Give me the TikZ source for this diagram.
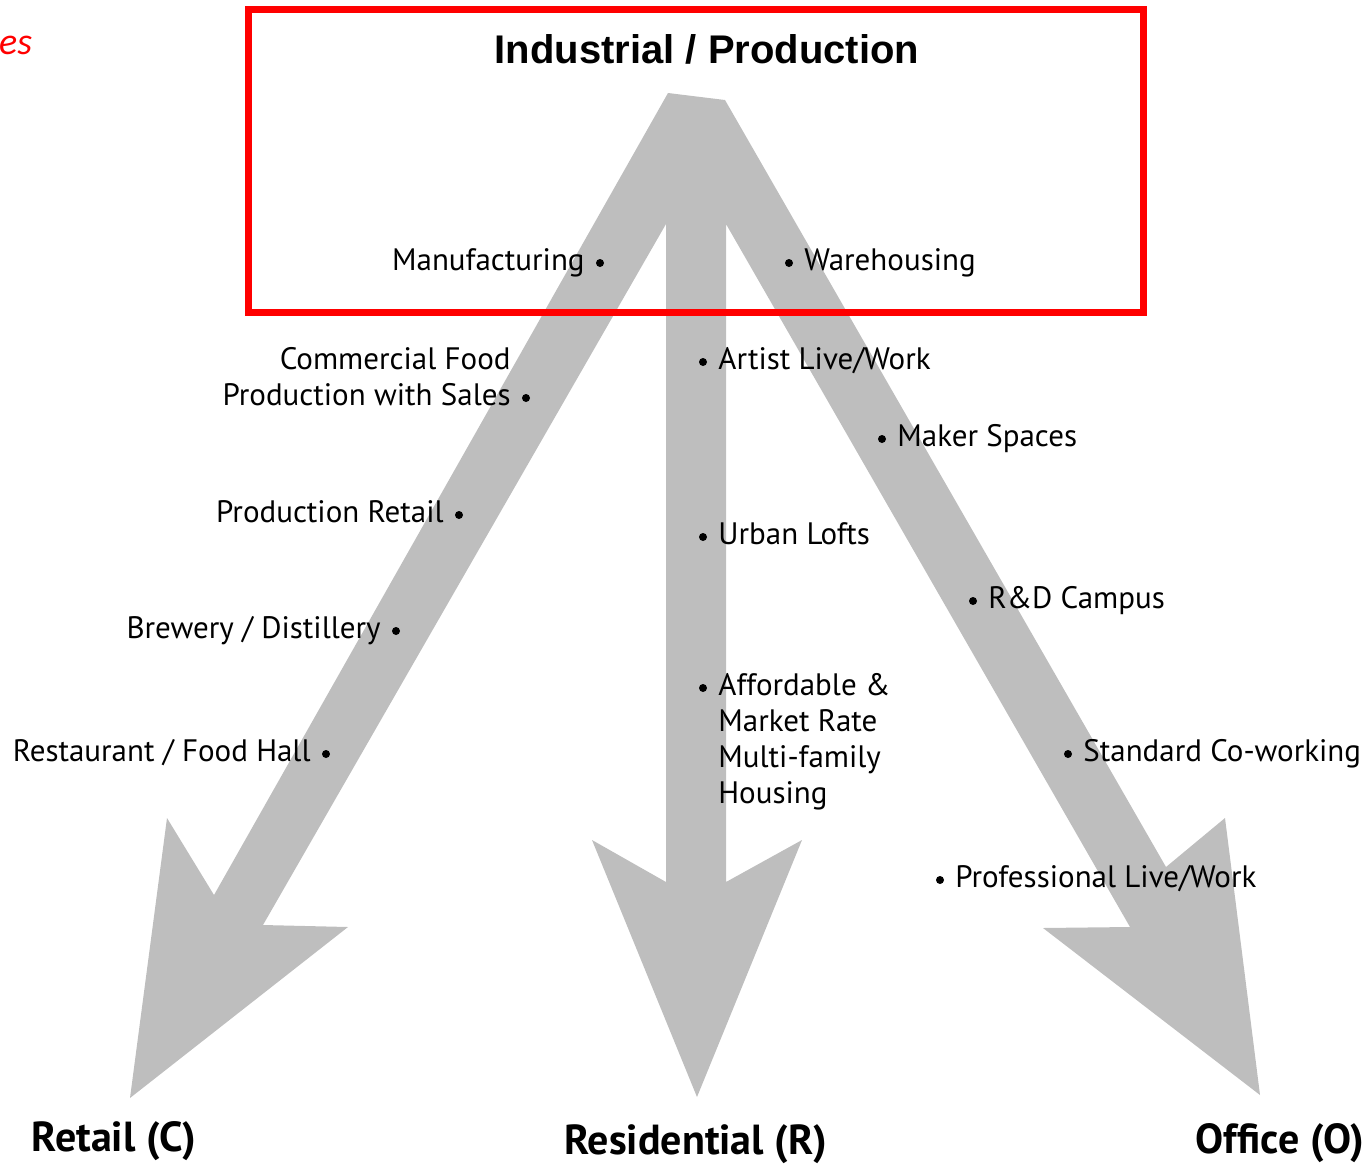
\documentclass[tikz,border=0pt]{standalone}
\usepackage{fontspec}
\newfontfamily\labelfont{PT Sans}
\newfontfamily\titlefont{Liberation Sans}
\newfontfamily\notefont{Carlito}
\usepackage{xcolor}
\definecolor{colorArrow}{RGB}{190,190,190}
\colorlet{colorFrame}{red}
\usepackage{tikz}
\usetikzlibrary{positioning}

\begin{document}
\begin{tikzpicture}[x=1pt, y=-1pt, node distance=11pt,
  dot/.style={circle, fill=black, inner sep=0pt, minimum size=8pt},
  lbl/.style={font=\labelfont\fontsize{31}{36}\selectfont, inner sep=0pt, text height=22pt, text depth=7pt},
  use/.style={font=\labelfont\bfseries\fontsize{42}{42}\selectfont, inner sep=0pt, anchor=base}]
\useasboundingbox (0,0) rectangle (1370,1165);

% one grey shape: three arrows leaving the top
\fill[colorArrow] (668,93) -- (214,895) -- (167,818) -- (130,1098) -- (348,927) -- (263,925)
  -- (666,224) -- (666,882) -- (592,840) -- (697,1097) -- (802,840) -- (726,882)
  -- (726,224) -- (1130,927) -- (1043,928) -- (1260,1095) -- (1225,818) -- (1166,867)
  -- (725,100) -- cycle;

\draw[colorFrame, line width=6.5pt] (248.5,9.5) rectangle (1143.5,312.5);
\node[font=\titlefont\bfseries\fontsize{40}{40}\selectfont, anchor=base, inner sep=0pt] (title) at (707,63) {Industrial / Production};
\node[font=\notefont\itshape\fontsize{38}{38}\selectfont, text=colorFrame, anchor=base west, inner sep=0pt] (note) at (-1,54) {es};

% towards retail
\node[dot] (dManuf) at (600,263) {};
\node[lbl, left=of dManuf] (manuf) {Manufacturing};
\node[dot] (dSales) at (526,398) {};
\node[lbl, left=of dSales] (sales) {Production with Sales};
\node[lbl, anchor=east] (food) at ([yshift=36pt]sales.east) {Commercial Food};
\node[dot] (dProdRetail) at (459,515) {};
\node[lbl, left=of dProdRetail] (prodRetail) {Production Retail};
\node[dot] (dBrewery) at (396,631) {};
\node[lbl, left=of dBrewery] (brewery) {Brewery / Distillery};
\node[dot] (dRestaurant) at (326,754) {};
\node[lbl, left=of dRestaurant] (restaurant) {Restaurant / Food Hall};

% towards residential
\node[dot] (dArtist) at (703,362) {};
\node[lbl, right=of dArtist] (artist) {Artist Live/Work};
\node[dot] (dLofts) at (703,537) {};
\node[lbl, right=of dLofts] (lofts) {Urban Lofts};
\node[dot] (dHousing) at (703,688) {};
\node[lbl, right=of dHousing] (afford) {Affordable \&};
\node[lbl, anchor=west] (market) at ([yshift=-36pt]afford.west) {Market Rate};
\node[lbl, anchor=west] (multi) at ([yshift=-36pt]market.west) {Multi-family};
\node[lbl, anchor=west] (housing) at ([yshift=-36pt]multi.west) {Housing};

% towards office
\node[dot] (dWare) at (789,263) {};
\node[lbl, right=of dWare] (ware) {Warehousing};
\node[dot] (dMaker) at (882,439) {};
\node[lbl, right=of dMaker] (maker) {Maker Spaces};
\node[dot] (dRD) at (973,601) {};
\node[lbl, right=of dRD] (rd) {R\&D Campus};
\node[dot] (dCowork) at (1068,754) {};
\node[lbl, right=of dCowork] (cowork) {Standard Co-working};
\node[dot] (dProLive) at (940,880) {};
\node[lbl, right=of dProLive] (proLive) {Professional Live/Work};

\node[use] (retail) at (114,1151) {Retail (C)};
\node[use] (resid) at (696,1154) {Residential (R)};
\node[use] (office) at (1280,1153) {Office (O)};
\end{tikzpicture}
\end{document}
